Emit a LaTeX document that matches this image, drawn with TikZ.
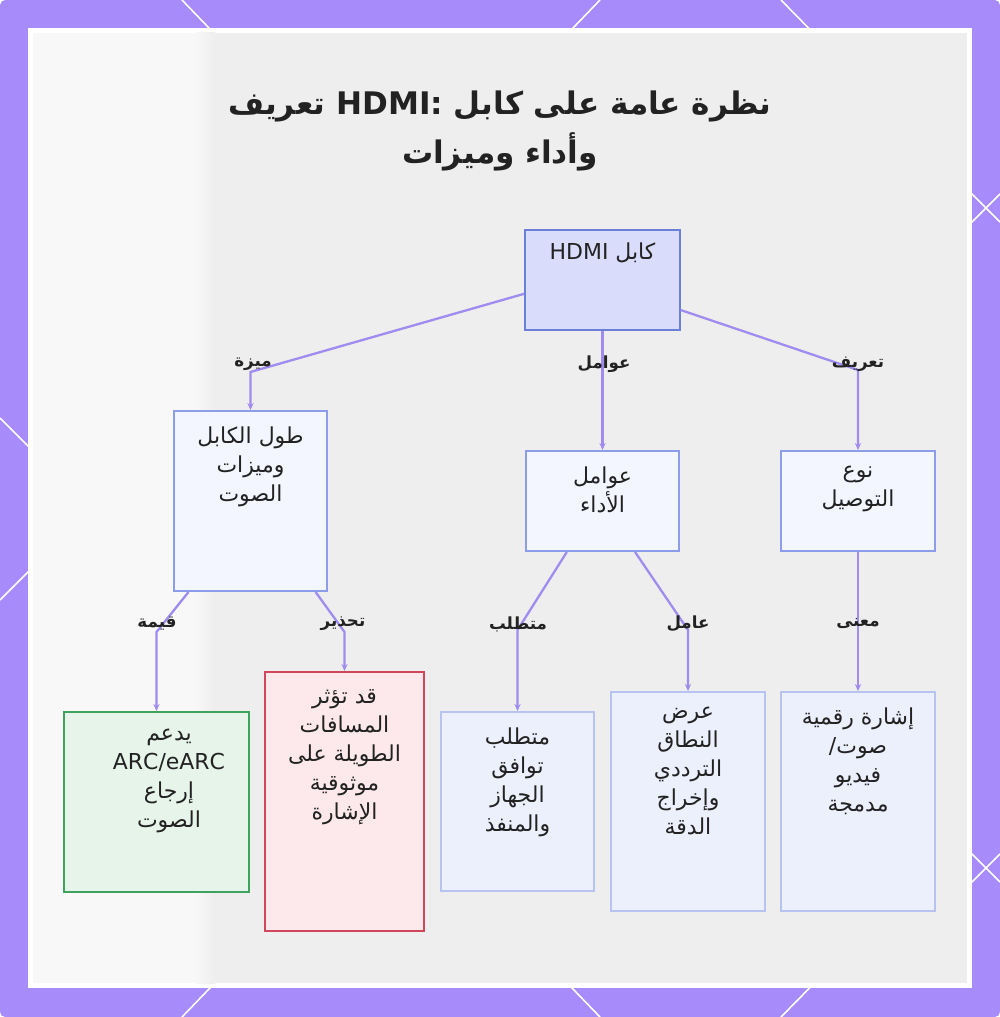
\documentclass[tikz,border=0pt]{standalone}
\usepackage{fontspec}
\setmainfont{DejaVu Sans}
\newfontfamily\arabicfont[Script=Arabic]{DejaVu Sans}
\TeXXeTstate=1
\usepackage{xcolor}
\usetikzlibrary{positioning,arrows.meta,calc}

\definecolor{frame}{HTML}{A78BFA}
\definecolor{panelgray}{HTML}{EEEEEF}
\definecolor{panelwhite}{HTML}{F8F8F8}
\definecolor{ink}{HTML}{222222}
\definecolor{linkc}{HTML}{A08CEE}
\definecolor{rootfill}{HTML}{D9DCFB}
\definecolor{rootline}{HTML}{6B7FD7}
\definecolor{midfill}{HTML}{F4F6FF}
\definecolor{midline}{HTML}{8C9EEA}
\definecolor{leaffill}{HTML}{ECEFFC}
\definecolor{leafline}{HTML}{B9C3F2}
\definecolor{okfill}{HTML}{E6F4EA}
\definecolor{okline}{HTML}{3DA35D}
\definecolor{warnfill}{HTML}{FDE9EC}
\definecolor{warnline}{HTML}{D0465A}

\newcommand{\artxt}[1]{\beginR #1\endR}

\begin{document}
\begin{tikzpicture}[x=0.02cm, y=-0.02cm,
  box/.style={draw, line width=1.1pt, inner sep=0pt},
  rootbox/.style={box, draw=rootline, fill=rootfill},
  midbox/.style={box, draw=midline, fill=midfill},
  leafbox/.style={box, draw=leafline, fill=leaffill},
  okbox/.style={box, draw=okline, fill=okfill},
  warnbox/.style={box, draw=warnline, fill=warnfill},
  txt/.style={font=\arabicfont\fontsize{12.5}{16.5}\selectfont, align=center, inner sep=0pt, text=ink},
  elabel/.style={font=\arabicfont\bfseries\fontsize{9.5}{11}\selectfont, inner sep=0pt, text=ink},
  link/.style={draw=linkc, line width=1.3pt, -{Stealth[length=4pt,width=3.5pt]}}]

  % frame and panel
  \useasboundingbox (0,0) rectangle (1000,1017);
  \fill[frame, rounded corners=3pt] (0,0) rectangle (1000,1017);
  \begin{scope}[white, line width=0.9pt]
    \draw (182,0) -- (236,56);  \draw (600,0) -- (546,56);  \draw (781,0) -- (836,56);
    \draw (182,1017) -- (236,961);  \draw (600,1017) -- (546,961);  \draw (781,1017) -- (836,961);
    \draw (0,418) -- (56,474);  \draw (0,600) -- (56,544);
    \draw (1000,222) -- (944,166);  \draw (1000,194) -- (944,250);
    \draw (1000,882) -- (944,826);  \draw (1000,854) -- (944,910);
  \end{scope}
  \fill[white] (28,28) rectangle (972,988);
  \fill[panelgray] (33,33) rectangle (967,983);
  \fill[panelwhite] (33,33) rectangle (195,983);
  \shade[left color=panelwhite, right color=panelgray] (195,33) rectangle (215,983);

  % title
  \node[font=\arabicfont\bfseries\fontsize{17.7}{28.4}\selectfont, align=center, text=ink] (title) at (500,131)
    {\artxt{نظرة عامة على كابل HDMI: تعريف}\\\artxt{وأداء وميزات}};

  % boxes
  \node[rootbox, minimum width=3.1cm, minimum height=2cm] (root) at (602.5,280) {};
  \node[midbox, minimum width=3.06cm, minimum height=3.6cm] (len) at (250.5,501) {};
  \node[midbox, minimum width=3.06cm, minimum height=2cm] (perf) at (602.5,501) {};
  \node[midbox, minimum width=3.08cm, minimum height=2cm] (kind) at (858,501) {};
  \node[okbox, minimum width=3.7cm, minimum height=3.6cm] (arc) at (156.5,802) {};
  \node[warnbox, minimum width=3.18cm, minimum height=5.18cm] (warn) at (344.5,801.5) {};
  \node[leafbox, minimum width=3.06cm, minimum height=3.58cm] (req) at (517.5,801.5) {};
  \node[leafbox, minimum width=3.08cm, minimum height=4.38cm] (band) at (688,801.5) {};
  \node[leafbox, minimum width=3.08cm, minimum height=4.38cm] (sig) at (858,801.5) {};

  % box texts
  \node[txt, below=0.27cm of root.north] (rootT) {\artxt{كابل HDMI}};
  \node[txt, below=0.32cm of len.north] (lenT) {\artxt{طول الكابل}\\\artxt{وميزات}\\\artxt{الصوت}};
  \node[txt, below=0.32cm of perf.north] (perfT) {\artxt{عوامل}\\\artxt{الأداء}};
  \node[txt, below=0.32cm of kind.north] (kindT) {\artxt{نوع}\\\artxt{التوصيل}};
  \node[txt, below=0.36cm of arc.north, xshift=0.25cm] (arcT) {\artxt{يدعم}\\ARC/eARC\\\artxt{إرجاع}\\\artxt{الصوت}};
  \node[txt, below=0.36cm of warn.north] (warnT) {\artxt{قد تؤثر}\\\artxt{المسافات}\\\artxt{الطويلة على}\\\artxt{موثوقية}\\\artxt{الإشارة}};
  \node[txt, below=0.32cm of req.north] (reqT) {\artxt{متطلب}\\\artxt{توافق}\\\artxt{الجهاز}\\\artxt{والمنفذ}};
  \node[txt, below=0.32cm of band.north] (bandT) {\artxt{عرض}\\\artxt{النطاق}\\\artxt{الترددي}\\\artxt{وإخراج}\\\artxt{الدقة}};
  \node[txt, below=0.32cm of sig.north] (sigT) {\artxt{إشارة رقمية}\\\artxt{صوت/}\\\artxt{فيديو}\\\artxt{مدمجة}};

  % connectors
  \draw[link] (root.-170) -- (len.north |- 0,372) -- (len.north);
  \draw[link] (root.south) -- (perf.north);
  \draw[link] (root.-21) -- (kind.north |- 0,370) -- (kind.north);
  \draw[link] ($(len.south west)!0.1!(len.south east)$) -- (arc.north |- 0,632) -- (arc.north);
  \draw[link] ($(len.south west)!0.92!(len.south east)$) -- (warn.north |- 0,632) -- (warn.north);
  \draw[link] ($(perf.south west)!0.27!(perf.south east)$) -- (req.north |- 0,630) -- (req.north);
  \draw[link] ($(perf.south west)!0.71!(perf.south east)$) -- (band.north |- 0,630) -- (band.north);
  \draw[link] (kind.south) -- (sig.north);

  % connector labels
  \foreach \nm/\x/\y/\lab in {lFeat/253/364/ميزة, lFac/604/364/عوامل, lDef/858/364/تعريف,
                               lVal/157/624/قيمة, lWarn/343/624/تحذير, lReq/518/624/متطلب,
                               lBand/688/624/عامل, lMean/858/624/معنى} {
    \node[elabel] (\nm) at (\x,\y) {\artxt{\lab}};
  }
\end{tikzpicture}
\end{document}
